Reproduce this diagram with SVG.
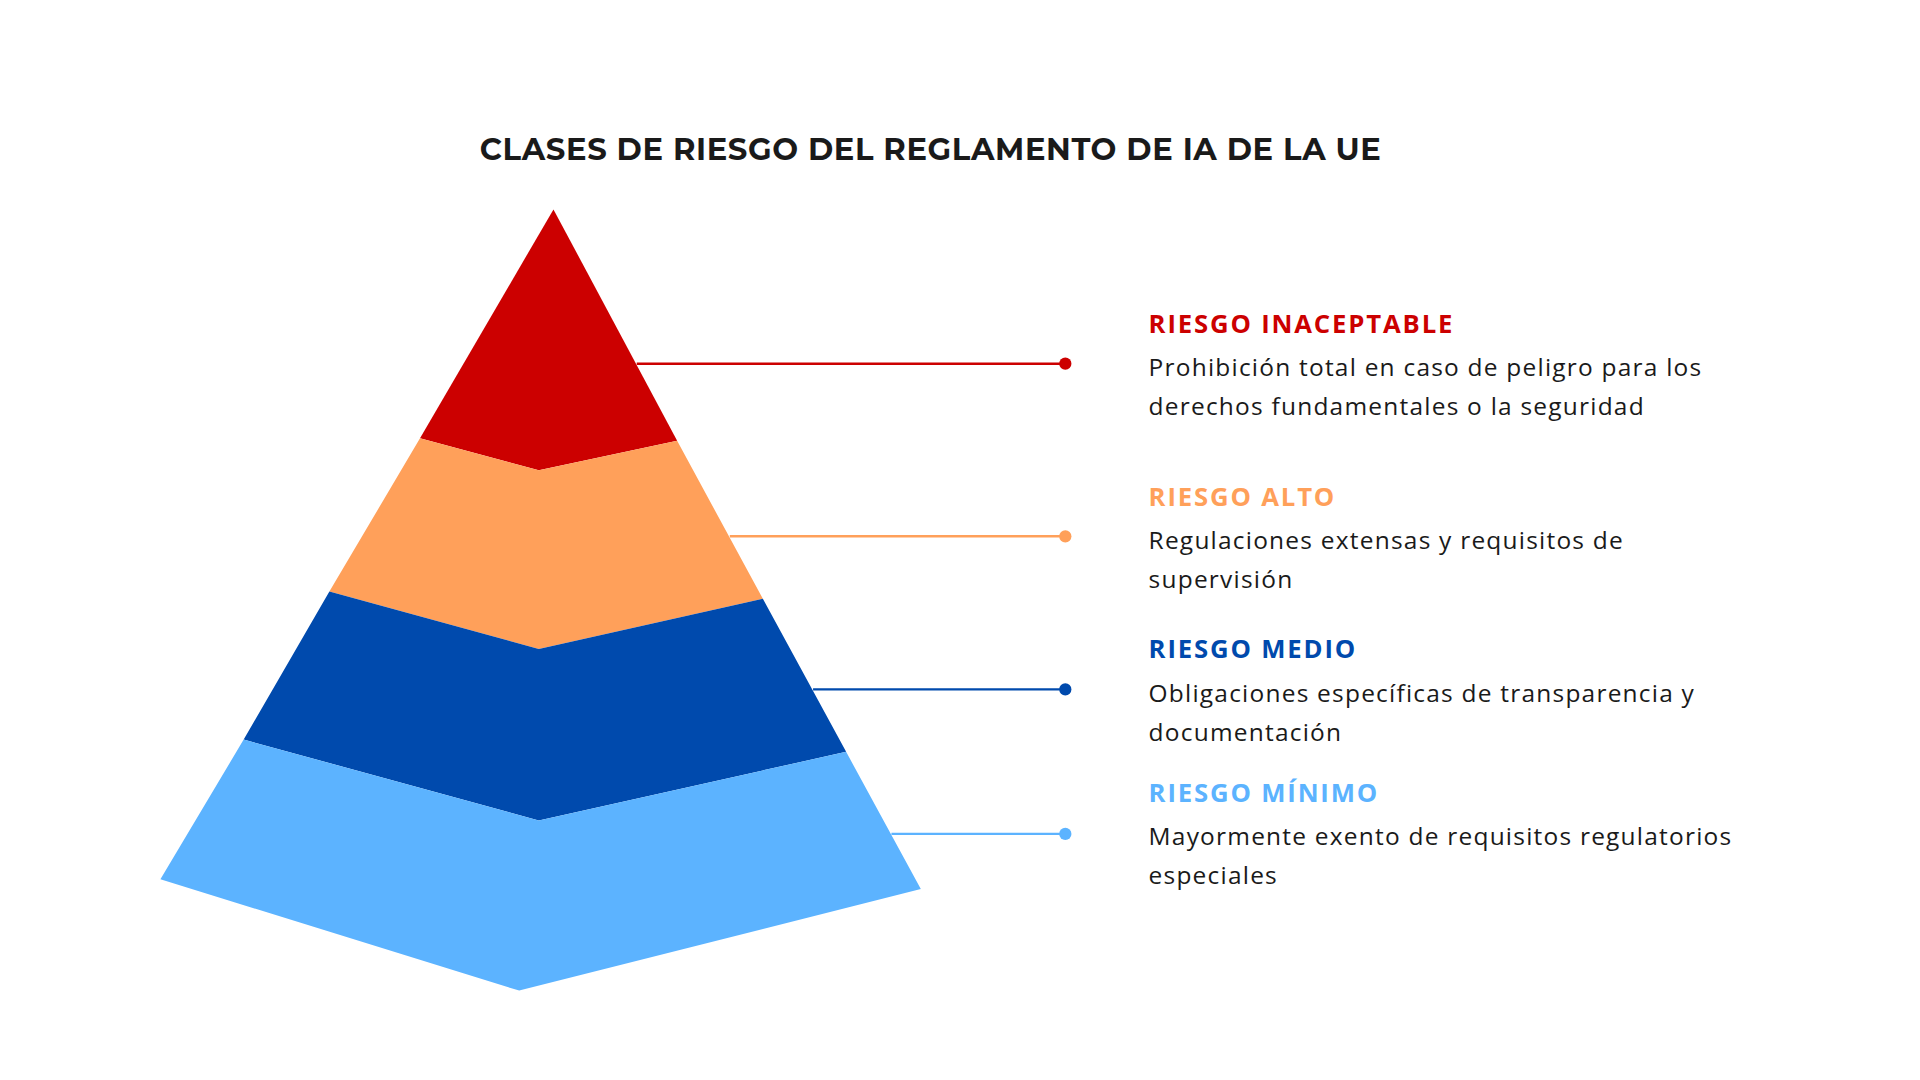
<svg xmlns="http://www.w3.org/2000/svg" width="1920" height="1080" viewBox="0 0 1920 1080">
<style>
.t{font-family:"Montserrat","Liberation Sans",Arial,sans-serif;font-weight:bold;font-size:25px;fill:#1a1a1a;letter-spacing:0.5px}
.h{font-family:"Open Sans","Liberation Sans",sans-serif;font-weight:bold;font-size:21px;letter-spacing:1.5px}
.b{font-family:"Open Sans","Liberation Sans",sans-serif;font-size:20px;fill:#1a1a1a;letter-spacing:1px}
</style>
<rect width="1920" height="1080" fill="#fff"/>
<g transform="scale(1.2245)">
<text class="t" x="760" y="131" text-anchor="middle">CLASES DE RIESGO DEL REGLAMENTO DE IA DE LA UE</text>
<g id="connectors" stroke-width="2">
<line x1="520" y1="297" x2="870" y2="297" stroke="#CC0000"/><circle cx="870" cy="297" r="5" fill="#CC0000"/>
<line x1="596" y1="438" x2="870" y2="438" stroke="#FFA05A"/><circle cx="870" cy="438" r="5" fill="#FFA05A"/>
<line x1="664" y1="563" x2="870" y2="563" stroke="#004AAD"/><circle cx="870" cy="563" r="5" fill="#004AAD"/>
<line x1="728" y1="681" x2="870" y2="681" stroke="#5CB3FF"/><circle cx="870" cy="681" r="5" fill="#5CB3FF"/>
</g>
<g id="n1"><polygon points="452,171 343,358 440,384 553,360" fill="#CC0000"/>
<text class="h" x="938" y="272" fill="#CC0000">RIESGO INACEPTABLE</text>
<text class="b" x="938" y="307">Prohibición total en caso de peligro para los</text>
<text class="b" x="938" y="339">derechos fundamentales o la seguridad</text></g>
<g id="n2"><polygon points="343,358 440,384 553,360 623,489 440,530 269,483" fill="#FFA05A"/>
<text class="h" x="938" y="413" fill="#FFA05A">RIESGO ALTO</text>
<text class="b" x="938" y="448">Regulaciones extensas y requisitos de</text>
<text class="b" x="938" y="480">supervisión</text></g>
<g id="n3"><polygon points="269,483 440,530 623,489 691,614 440,670 199,604" fill="#004AAD"/>
<text class="h" x="938" y="537" fill="#004AAD">RIESGO MEDIO</text>
<text class="b" x="938" y="573">Obligaciones específicas de transparencia y</text>
<text class="b" x="938" y="605">documentación</text></g>
<g id="n4"><polygon points="199,604 440,670 691,614 752,726 424,809 131,718" fill="#5CB3FF"/>
<text class="h" x="938" y="655" fill="#5CB3FF">RIESGO MÍNIMO</text>
<text class="b" x="938" y="690">Mayormente exento de requisitos regulatorios</text>
<text class="b" x="938" y="722">especiales</text></g>
</g>
</svg>
